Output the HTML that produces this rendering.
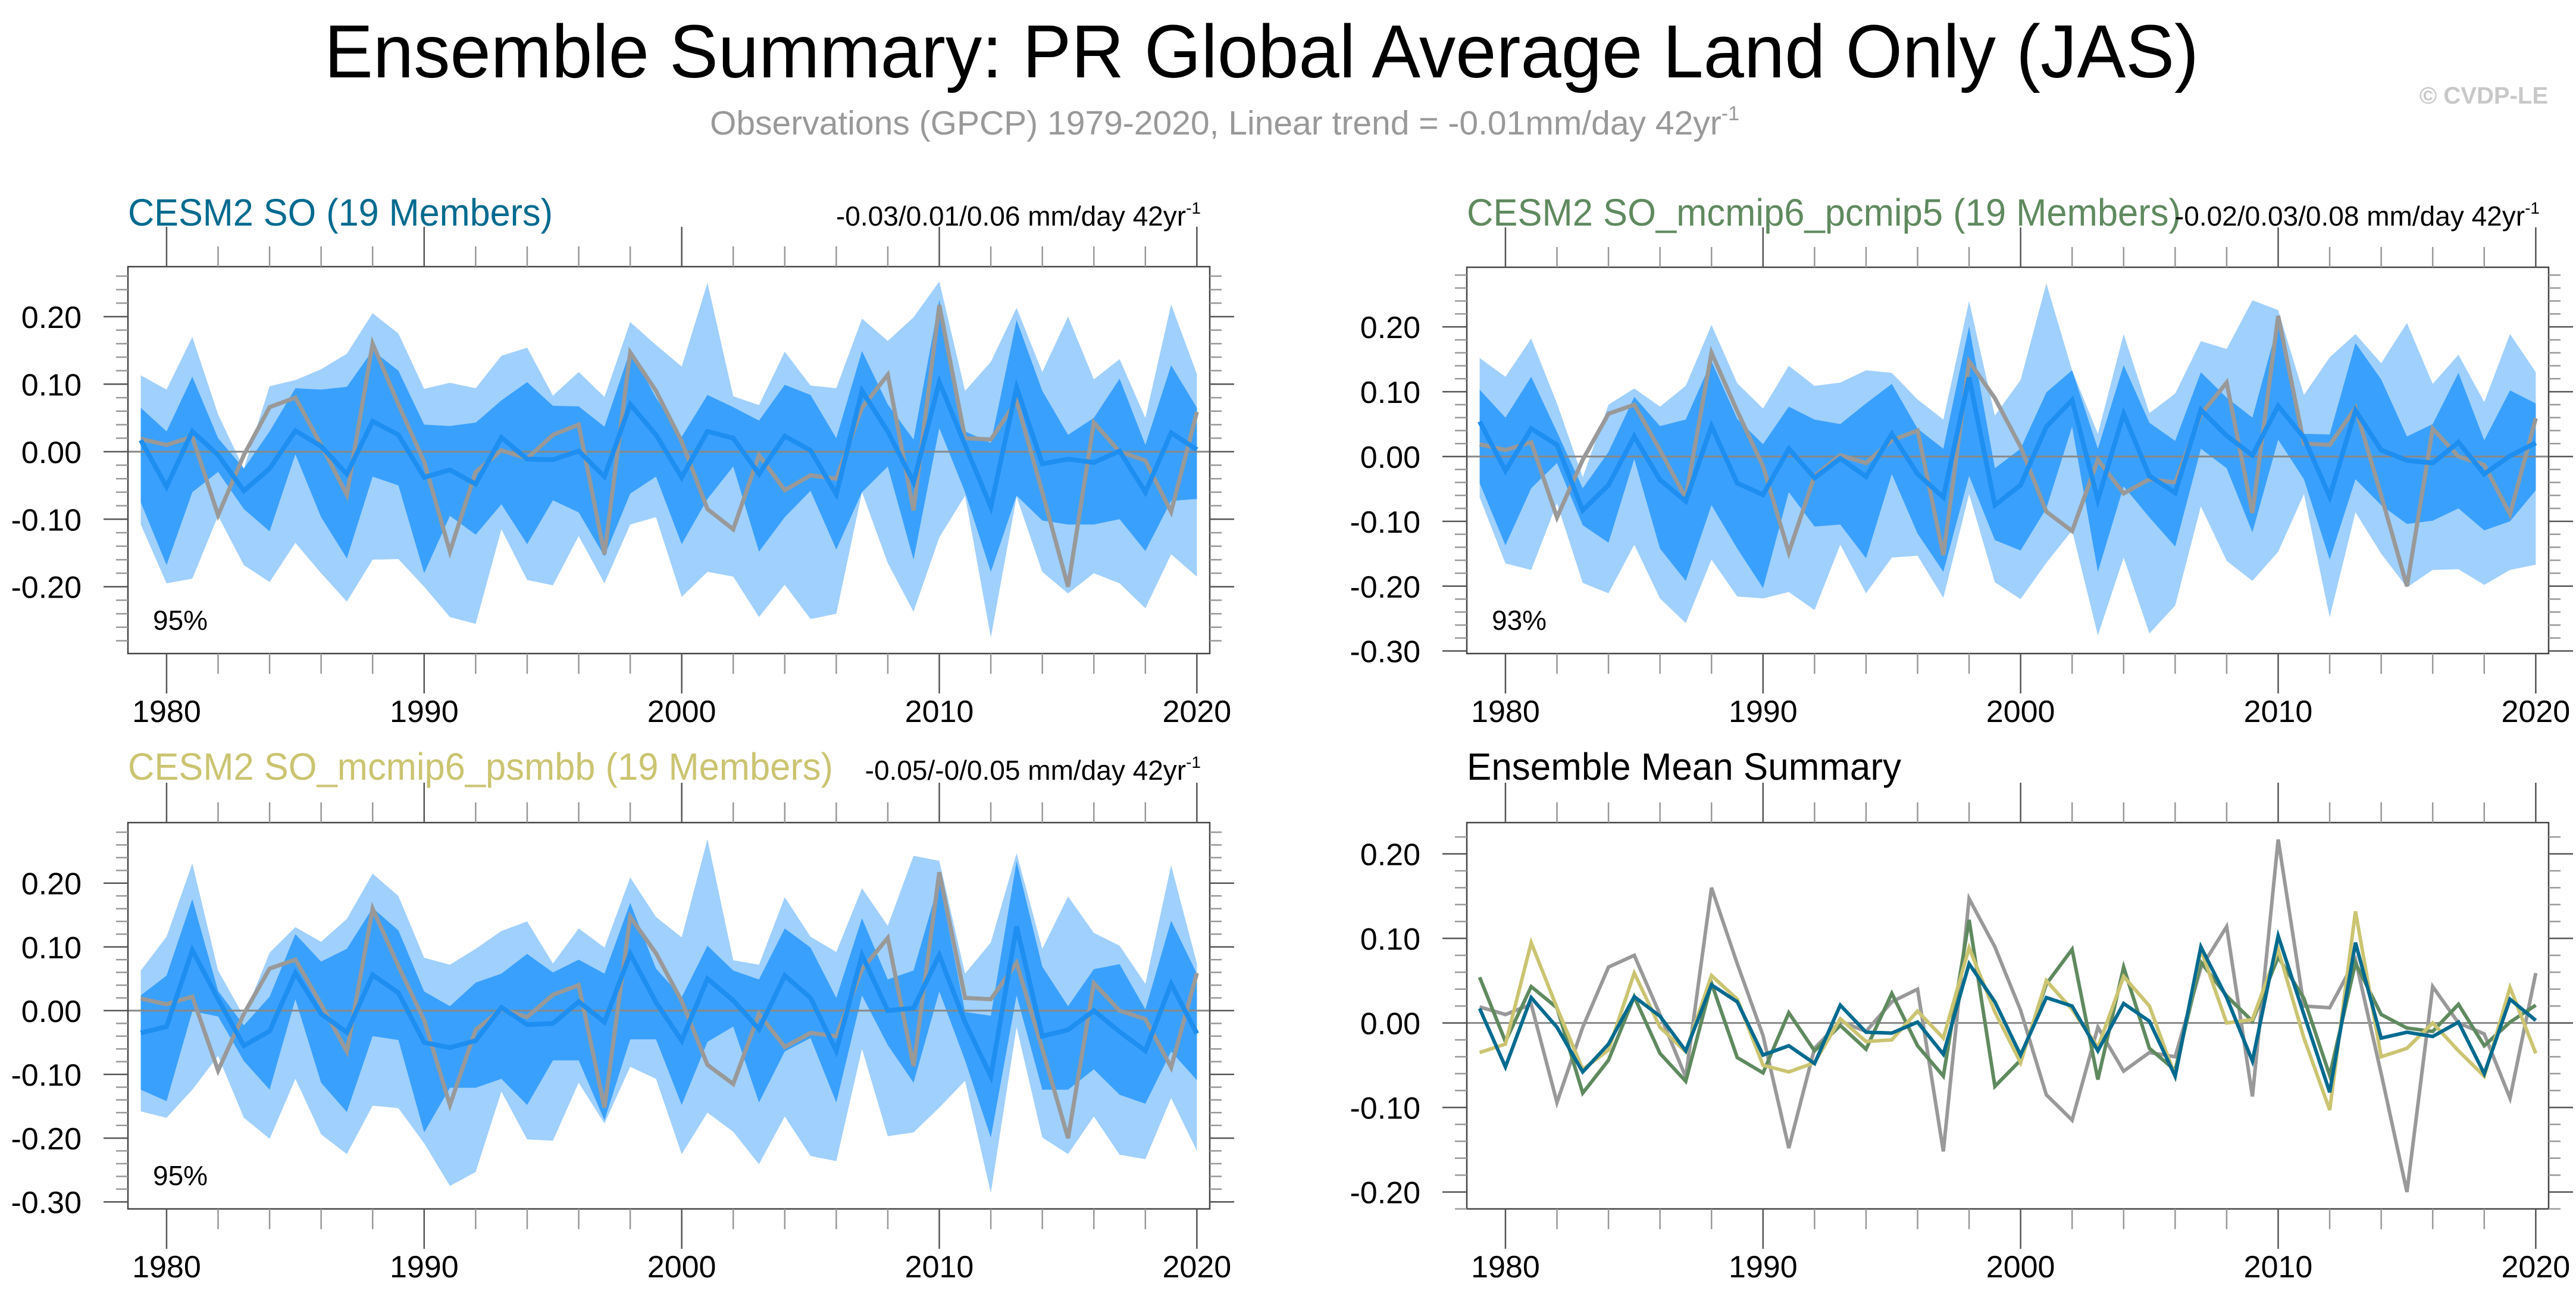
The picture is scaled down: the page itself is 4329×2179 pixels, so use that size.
<!DOCTYPE html>
<html><head><meta charset="utf-8"><title>Ensemble Summary: PR Global Average Land Only (JAS)</title>
<style>html,body{margin:0;padding:0;background:#fff;}svg{display:block;font-family:"Liberation Sans",Arial,sans-serif;}</style>
</head><body>
<svg id="chart" xmlns="http://www.w3.org/2000/svg" width="4329" height="2179" viewBox="0 0 4329 2179">
<rect width="4329" height="2179" fill="#fff"/>
<text x="2120" y="130" font-size="126" text-anchor="middle" fill="#000" textLength="3150" lengthAdjust="spacingAndGlyphs">Ensemble Summary: PR Global Average Land Only (JAS)</text>
<text x="1193" y="226" font-size="57" fill="#999">Observations (GPCP) 1979-2020, Linear trend = -0.01mm/day 42yr<tspan font-size="34" dy="-24">-1</tspan></text>
<text x="4282" y="174" font-size="40" font-weight="bold" fill="#c8c8c8" text-anchor="end">© CVDP-LE</text>

<text x="215" y="379" font-size="64" fill="#006a8e" textLength="714" lengthAdjust="spacingAndGlyphs">CESM2 SO (19 Members)</text>
<text x="2018" y="379" font-size="46" fill="#000" text-anchor="end">-0.03/0.01/0.06 mm/day 42yr<tspan font-size="28" dy="-20">-1</tspan></text>
<text x="2465" y="379" font-size="64" fill="#5f8a5f" textLength="1200" lengthAdjust="spacingAndGlyphs">CESM2 SO_mcmip6_pcmip5 (19 Members)</text>
<text x="4268" y="379" font-size="46" fill="#000" text-anchor="end">-0.02/0.03/0.08 mm/day 42yr<tspan font-size="28" dy="-20">-1</tspan></text>
<text x="215" y="1310" font-size="64" fill="#cbc471" textLength="1185" lengthAdjust="spacingAndGlyphs">CESM2 SO_mcmip6_psmbb (19 Members)</text>
<text x="2018" y="1310" font-size="46" fill="#000" text-anchor="end">-0.05/-0/0.05 mm/day 42yr<tspan font-size="28" dy="-20">-1</tspan></text>
<text x="2465" y="1310" font-size="64" fill="#000" textLength="730" lengthAdjust="spacingAndGlyphs">Ensemble Mean Summary</text>
<g id="plots"></g>
</svg>
<script>
const years = Array.from({length:42},(_,i)=>1979+i);
const obs = [0.019,0.010,0.022,-0.094,-0.005,0.066,0.080,0.010,-0.064,0.160,0.070,-0.015,-0.148,-0.030,0.002,-0.010,0.025,0.040,-0.152,0.147,0.090,0.015,-0.085,-0.115,-0.005,-0.057,-0.035,-0.040,0.065,0.114,-0.087,0.217,0.020,0.018,0.075,-0.060,-0.200,0.043,0.000,-0.013,-0.089,0.059];
const ensSO = [0.017,-0.052,0.030,-0.005,-0.058,-0.025,0.031,0.008,-0.033,0.045,0.025,-0.038,-0.027,-0.048,0.021,-0.011,-0.012,0.001,-0.037,0.070,0.025,-0.038,0.030,0.020,-0.033,0.023,0.002,-0.063,0.090,0.030,-0.045,0.103,0.010,-0.082,0.095,-0.018,-0.011,-0.016,0.001,-0.060,0.028,0.003];
const ensP5 = [0.054,-0.022,0.043,0.018,-0.083,-0.044,0.031,-0.036,-0.069,0.047,-0.041,-0.059,0.012,-0.033,-0.003,-0.031,0.035,-0.027,-0.063,0.122,-0.075,-0.044,0.046,0.087,-0.067,0.066,-0.030,-0.056,0.072,0.032,0.002,0.078,0.029,-0.062,0.071,0.010,-0.006,-0.010,0.022,-0.027,0.001,0.021];
const ensPS = [-0.035,-0.025,0.095,0.018,-0.055,-0.032,0.059,-0.005,-0.034,0.056,0.028,-0.050,-0.058,-0.047,0.005,-0.022,-0.020,0.014,-0.018,0.089,0.013,-0.047,0.050,0.016,-0.029,0.055,0.020,-0.063,0.087,0.000,0.004,0.087,-0.018,-0.103,0.132,-0.040,-0.030,0.000,-0.033,-0.063,0.042,-0.036];

const p1OuterHi = [0.113,0.092,0.170,0.055,-0.025,0.097,0.106,0.122,0.145,0.205,0.175,0.093,0.102,0.094,0.142,0.154,0.083,0.118,0.081,0.192,0.158,0.126,0.250,0.082,0.069,0.148,0.098,0.094,0.197,0.164,0.199,0.252,0.090,0.133,0.213,0.118,0.200,0.107,0.137,0.050,0.218,0.115];
const p1InnerHi = [0.065,0.030,0.111,0.020,-0.025,0.030,0.094,0.092,0.096,0.150,0.120,0.040,0.038,0.043,0.076,0.103,0.068,0.067,0.037,0.150,0.080,0.022,0.084,0.066,0.046,0.099,0.084,0.020,0.149,0.070,0.018,0.225,0.030,0.013,0.195,0.090,0.025,0.050,0.108,0.010,0.128,0.065];
const p1InnerLo = [-0.075,-0.168,-0.060,-0.030,-0.085,-0.118,-0.004,-0.097,-0.158,-0.037,-0.050,-0.180,-0.095,-0.123,-0.078,-0.137,-0.072,-0.090,-0.155,-0.062,-0.037,-0.137,-0.070,-0.022,-0.148,-0.097,-0.058,-0.145,-0.060,-0.022,-0.160,0.035,-0.060,-0.178,-0.065,-0.102,-0.108,-0.108,-0.100,-0.147,-0.073,-0.070];
const p1OuterLo = [-0.108,-0.195,-0.188,-0.095,-0.168,-0.193,-0.135,-0.180,-0.222,-0.160,-0.159,-0.200,-0.245,-0.255,-0.115,-0.190,-0.198,-0.125,-0.195,-0.108,-0.097,-0.215,-0.178,-0.185,-0.245,-0.197,-0.248,-0.240,-0.060,-0.165,-0.237,-0.127,-0.065,-0.275,-0.067,-0.178,-0.210,-0.180,-0.195,-0.232,-0.152,-0.185];

const p2OuterHi = [0.152,0.123,0.182,0.082,-0.032,0.080,0.105,0.077,0.109,0.203,0.113,0.074,0.140,0.109,0.114,0.133,0.129,0.088,0.057,0.240,0.063,0.118,0.267,0.133,0.035,0.189,0.067,0.097,0.178,0.166,0.241,0.226,0.095,0.153,0.189,0.144,0.206,0.112,0.157,0.084,0.189,0.130];
const p2InnerHi = [0.103,0.060,0.123,0.038,-0.049,0.007,0.092,0.047,0.057,0.147,0.058,0.019,0.077,0.057,0.050,0.082,0.112,0.043,0.012,0.201,-0.018,0.012,0.099,0.133,0.012,0.141,0.052,0.024,0.130,0.091,0.060,0.206,0.035,0.034,0.175,0.119,0.031,0.050,0.129,0.025,0.102,0.082];
const p2InnerLo = [-0.041,-0.137,-0.049,-0.010,-0.106,-0.133,-0.004,-0.142,-0.192,-0.075,-0.142,-0.203,-0.055,-0.108,-0.105,-0.157,-0.027,-0.119,-0.178,-0.030,-0.129,-0.145,-0.080,0.046,-0.178,-0.046,-0.094,-0.139,0.012,-0.018,-0.117,0.026,-0.035,-0.159,-0.035,-0.075,-0.104,-0.099,-0.080,-0.114,-0.100,-0.052];
const p2OuterLo = [-0.063,-0.165,-0.175,-0.072,-0.195,-0.211,-0.136,-0.219,-0.257,-0.159,-0.216,-0.219,-0.209,-0.237,-0.136,-0.211,-0.156,-0.153,-0.218,-0.058,-0.194,-0.220,-0.164,-0.114,-0.276,-0.156,-0.273,-0.230,-0.077,-0.161,-0.192,-0.147,-0.058,-0.248,-0.086,-0.150,-0.202,-0.175,-0.174,-0.198,-0.175,-0.167];

const p3OuterHi = [0.063,0.116,0.231,0.063,-0.009,0.091,0.131,0.108,0.144,0.215,0.180,0.083,0.072,0.097,0.125,0.140,0.074,0.129,0.099,0.209,0.147,0.115,0.269,0.079,0.072,0.178,0.116,0.092,0.192,0.133,0.243,0.235,0.058,0.107,0.247,0.097,0.179,0.122,0.102,0.042,0.228,0.074];
const p3InnerHi = [0.024,0.055,0.175,0.031,-0.023,0.022,0.120,0.077,0.097,0.161,0.126,0.030,0.007,0.044,0.058,0.089,0.060,0.080,0.058,0.169,0.066,0.021,0.102,0.063,0.049,0.129,0.099,0.020,0.145,0.049,0.063,0.203,-0.002,-0.008,0.234,0.069,0.007,0.065,0.073,0.002,0.141,0.058];
const p3InnerLo = [-0.124,-0.142,-0.001,-0.009,-0.079,-0.124,0.018,-0.113,-0.159,-0.040,-0.046,-0.191,-0.121,-0.121,-0.107,-0.148,-0.078,-0.078,-0.172,-0.045,-0.045,-0.148,-0.049,-0.025,-0.144,-0.064,-0.043,-0.144,0.024,-0.054,-0.113,0.030,-0.078,-0.199,0.024,-0.124,-0.124,-0.092,-0.132,-0.146,-0.064,-0.109];
const p3OuterLo = [-0.158,-0.168,-0.124,-0.071,-0.168,-0.201,-0.107,-0.194,-0.225,-0.149,-0.153,-0.208,-0.275,-0.253,-0.127,-0.202,-0.204,-0.113,-0.177,-0.088,-0.107,-0.225,-0.160,-0.190,-0.241,-0.166,-0.228,-0.236,-0.060,-0.197,-0.191,-0.152,-0.110,-0.286,-0.026,-0.199,-0.225,-0.166,-0.226,-0.233,-0.137,-0.220];

const ticks12 = [0.2,0.1,0,-0.1,-0.2];
const ticks23 = [0.2,0.1,0,-0.1,-0.2,-0.3];
const xTickYears = [1980,1990,2000,2010,2020];

const NS = 'http://www.w3.org/2000/svg';
const root = document.getElementById('plots');
function mk(tag, attrs, parent){
  const e = document.createElementNS(NS, tag);
  for (const k in attrs) e.setAttribute(k, attrs[k]);
  (parent||root).appendChild(e);
  return e;
}
function fmt(v){ return (v<0?'-':'') + Math.abs(v).toFixed(2); }

function drawPanel(id, cfg){
  const g = mk('g', {});
  
  
  const {x0,x1,y0,y1,ymin,ymax} = cfg;
  const xs = yr => x0 + (yr - 1978.5) / 42 * (x1 - x0);
  const ys = v => y0 + (ymax - v) / (ymax - ymin) * (y1 - y0);
  const clipId = id + '-clip';
  const cp = mk('clipPath', {id: clipId}, g);
  mk('rect', {x:x0, y:y0, width:x1-x0, height:y1-y0}, cp);
  const plot = mk('g', {'clip-path':'url(#'+clipId+')'}, g);
  function band(hi, lo, color, name){
    const pts = [];
    years.forEach((yr,i)=>pts.push(xs(yr).toFixed(1)+','+ys(hi[i]).toFixed(1)));
    for (let i=years.length-1;i>=0;i--) pts.push(xs(years[i]).toFixed(1)+','+ys(lo[i]).toFixed(1));
    const p = mk('polygon', {points: pts.join(' '), fill: color}, plot);
    
    
  }
  function line(vals, color, w, name){
    const pts = years.map((yr,i)=>xs(yr).toFixed(1)+','+ys(vals[i]).toFixed(1)).join(' ');
    const p = mk('polyline', {points: pts, fill:'none', stroke: color, 'stroke-width': w, 'stroke-linejoin':'miter'}, plot);
    
    
  }
  if (cfg.bands){
    band(cfg.bands[0], cfg.bands[3], '#a0d0fe', 'outer-range-band');
    band(cfg.bands[1], cfg.bands[2], '#3aa0fe', 'inner-range-band');
  }
  const zl = mk('line', {x1:x0, x2:x1, y1:ys(0), y2:ys(0), stroke:'#888', 'stroke-width':3}, plot);
  
  
  cfg.lines.forEach(l => line(l.vals, l.color, l.w, l.name));
  const box = mk('rect', {x:x0, y:y0, width:x1-x0, height:y1-y0, fill:'none', stroke:'#444', 'stroke-width':2.5}, g);
  
  
  const iMin = Math.ceil(ymin/0.02 - 1e-6), iMax = Math.floor(ymax/0.02 + 1e-6);
  for (let i=iMin;i<=iMax;i++){
    const v = i*0.02, y = ys(v);
    const major = (i % 5 === 0);
    const L = major ? 41 : 20;
    mk('line', {x1:x0-L, x2:x0, y1:y, y2:y, stroke: major?'#555':'#999', 'stroke-width':2.5}, g);
    mk('line', {x1:x1, x2:x1+L, y1:y, y2:y, stroke: major?'#555':'#999', 'stroke-width':2.5}, g);
  }
  cfg.yLabels.forEach(v=>{
    const t = mk('text', {x: x0-78, y: ys(v)+19, 'font-size':52, 'text-anchor':'end', fill:'#000'}, g);
    t.textContent = fmt(v);
    
    
  });
  for (let yr=1980; yr<=2020; yr+=2){
    const x = xs(yr), major = (yr % 10 === 0), L = major ? 67 : 34;
    mk('line', {x1:x, x2:x, y1:y0-L, y2:y0, stroke: major?'#555':'#999', 'stroke-width':2.5}, g);
    mk('line', {x1:x, x2:x, y1:y1, y2:y1+L, stroke: major?'#555':'#999', 'stroke-width':2.5}, g);
  }
  xTickYears.forEach(yr=>{
    const t = mk('text', {x: xs(yr), y: y1+115, 'font-size':52, 'text-anchor':'middle', fill:'#000'}, g);
    t.textContent = String(yr);
    
    
  });
  if (cfg.pct){
    const t = mk('text', {x: x0+42, y: y1-40, 'font-size':46, fill:'#000'}, g);
    t.textContent = cfg.pct;
    
    
  }
}

drawPanel('panel-cesm2-so', {x0:215,x1:2033,y0:448,y1:1098,ymin:-0.299,ymax:0.274,yLabels:ticks12,pct:'95%',
  bands:[p1OuterHi,p1InnerHi,p1InnerLo,p1OuterLo],
  lines:[{vals:obs,color:'#999',w:7,name:'obs-line'},{vals:ensSO,color:'#1e8ef0',w:8,name:'ensemble-mean-line'}]});
drawPanel('panel-cesm2-pcmip5', {x0:2465,x1:4283,y0:449,y1:1098,ymin:-0.304,ymax:0.292,yLabels:ticks23,pct:'93%',
  bands:[p2OuterHi,p2InnerHi,p2InnerLo,p2OuterLo],
  lines:[{vals:obs,color:'#999',w:7,name:'obs-line'},{vals:ensP5,color:'#1e8ef0',w:8,name:'ensemble-mean-line'}]});
drawPanel('panel-cesm2-psmbb', {x0:215,x1:2033,y0:1382,y1:2031,ymin:-0.311,ymax:0.295,yLabels:ticks23,pct:'95%',
  bands:[p3OuterHi,p3InnerHi,p3InnerLo,p3OuterLo],
  lines:[{vals:obs,color:'#999',w:7,name:'obs-line'},{vals:ensPS,color:'#1e8ef0',w:8,name:'ensemble-mean-line'}]});
drawPanel('panel-ensemble-mean-summary', {x0:2465,x1:4283,y0:1382,y1:2031,ymin:-0.220,ymax:0.237,yLabels:ticks12,
  lines:[{vals:obs,color:'#999',w:6,name:'obs-line'},{vals:ensP5,color:'#5f8a5f',w:6,name:'pcmip5-mean-line'},
         {vals:ensPS,color:'#cbc471',w:6,name:'psmbb-mean-line'},{vals:ensSO,color:'#006a8e',w:6,name:'cesm2-so-mean-line'}]});
</script>
</body></html>
